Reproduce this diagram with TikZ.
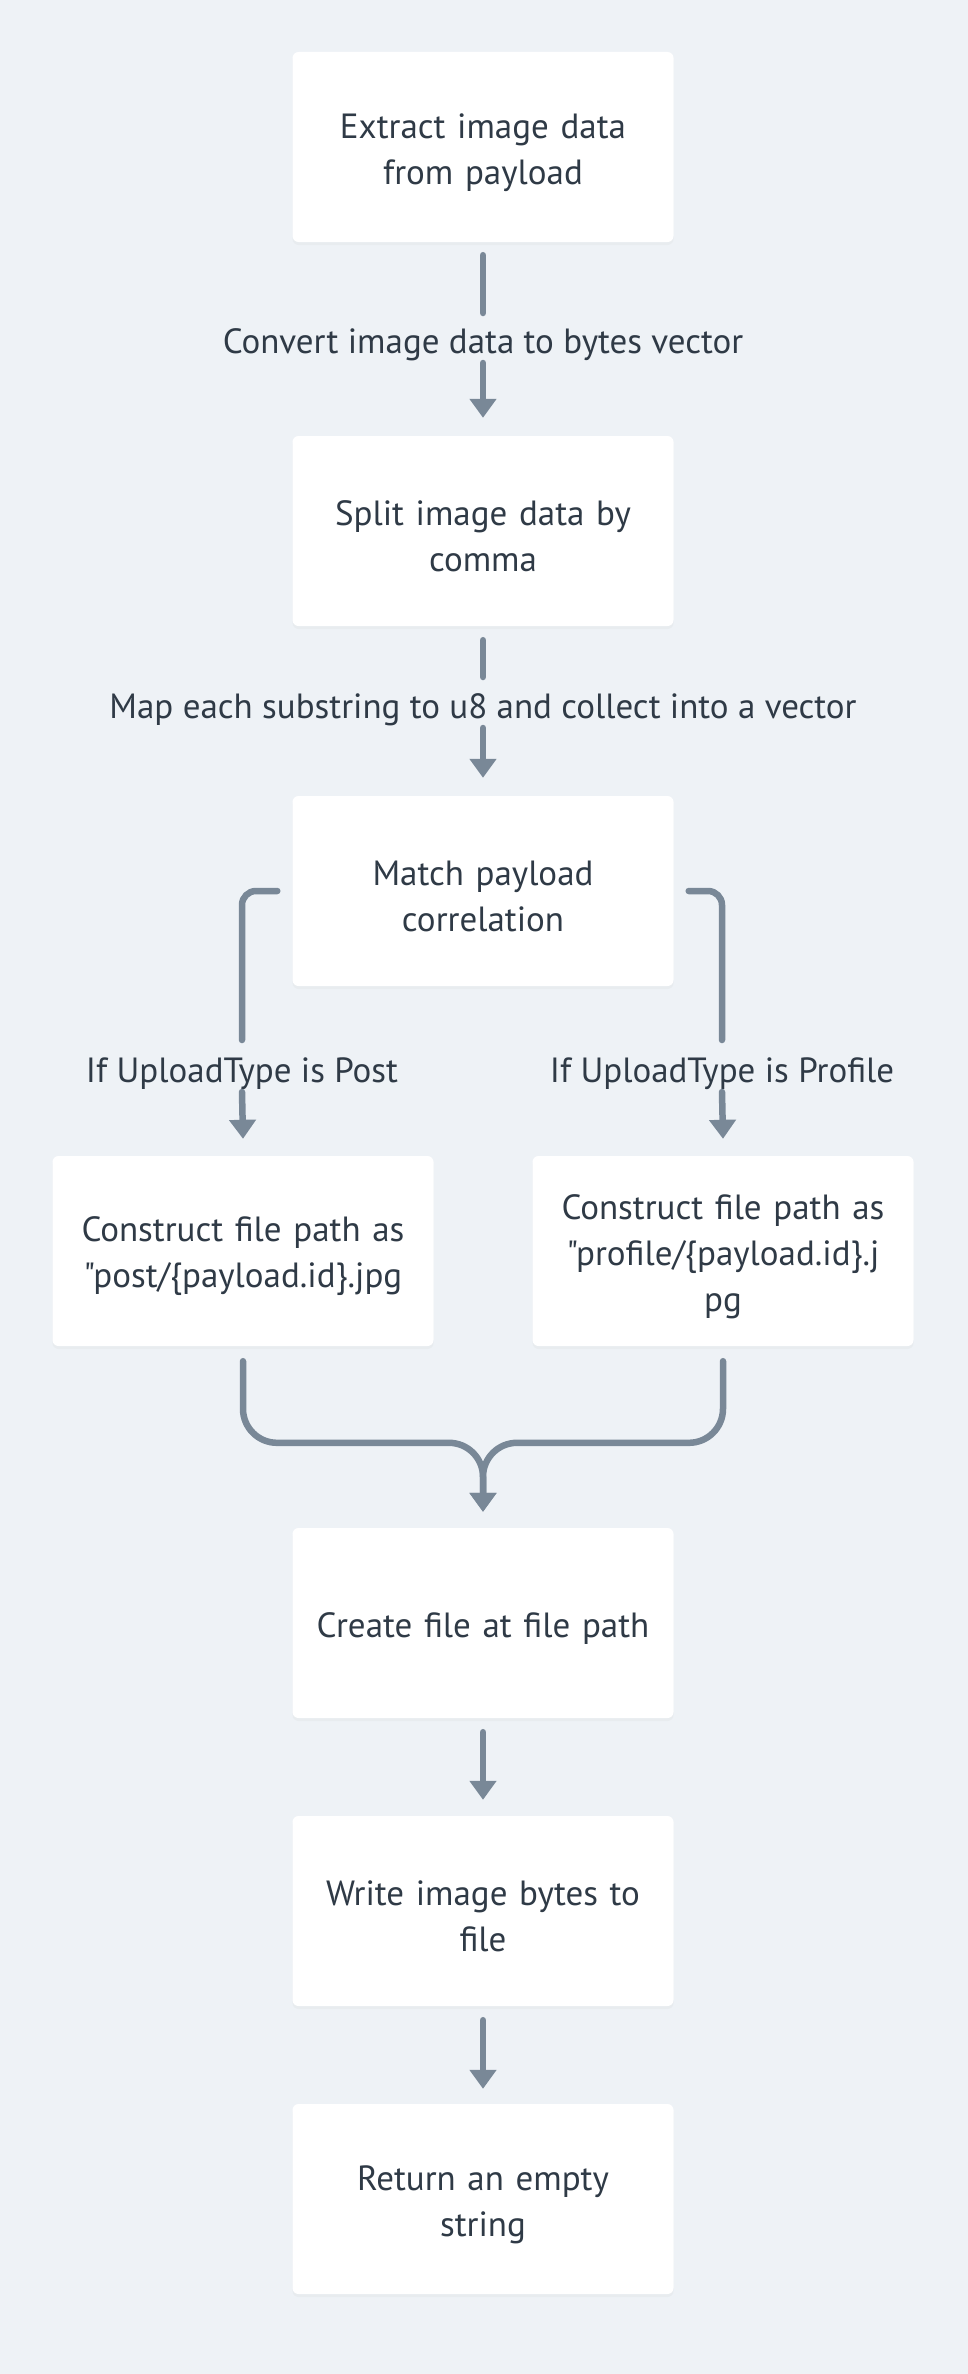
\documentclass[tikz,border=0pt]{standalone}
\usepackage{fontspec}
\setmainfont{PT Sans}[Ligatures=TeXOff]
\usetikzlibrary{arrows.meta,calc,shadows}
\definecolor{bgc}{HTML}{EEF2F6}
\definecolor{linec}{HTML}{798897}
\definecolor{textc}{HTML}{2F3A46}
\tikzset{
  x=1pt,y=1pt,
  stepbox/.style={draw=none, fill=white, rounded corners=6pt, minimum width=381pt, minimum height=190pt,
    text width=375pt, align=center, inner sep=0pt, text=textc,
    font=\fontsize{35}{46}\selectfont,
    execute at begin node={\rule{0pt}{36pt}},
    drop shadow={opacity=0.05, shadow xshift=0pt, shadow yshift=-3pt}},
  lbl/.style={inner sep=0pt, text=textc, font=\fontsize{35}{40}\selectfont},
  conn/.style={draw=linec, line width=6.5pt, line cap=round},
  arr/.style={conn, -{Triangle[width=26pt,length=19pt]}},
}
\begin{document}
\begin{tikzpicture}
\fill[bgc] (0,0) rectangle (968,-2374);
\useasboundingbox (0,0) rectangle (968,-2374);

\node[stepbox] (b1) at (483,-147) {Extract image data\\from payload};
\node[lbl] (l1) at (483,-345) {Convert image data to bytes vector};
\node[stepbox] (b2) at (483,-531) {Split image data by\\comma};
\node[lbl] (l2) at (483,-710) {Map each substring to u8 and collect into a vector};
\node[stepbox] (b3) at (483,-891) {Match payload\\correlation};
\node[lbl] (lp) at (242,-1074) {If UploadType is Post};
\node[lbl] (lq) at (722,-1074) {If UploadType is Profile};
\node[stepbox] (b4) at (243,-1251) {Construct file path as\\"post/\{payload.id\}.jpg};
\node[stepbox] (b5) at (723,-1251) {Construct file path as\\"profile/\{payload.id\}.j\\pg};
\node[stepbox] (b6) at (483,-1623) {Create file at file path};
\node[stepbox] (b7) at (483,-1911) {Write image bytes to\\file};
\node[stepbox] (b8) at (483,-2199) {Return an empty\\string};

% top chain
\draw[conn] ([yshift=-13pt]b1.south) -- ([yshift=32pt]l1.center);
\draw[arr] ([yshift=-18pt]l1.center) -- ([yshift=18pt]b2.north);
\draw[conn] ([yshift=-14pt]b2.south) -- ([yshift=33pt]l2.center);
\draw[arr] ([yshift=-18pt]l2.center) -- ([yshift=18pt]b3.north);

% branches
\draw[conn, rounded corners=14pt] ([xshift=-15pt]b3.west) -| ([yshift=34pt]lp.center);
\draw[conn, rounded corners=14pt] ([xshift=15pt]b3.east) -| ([yshift=34pt]lq.center);
\draw[arr] ([yshift=-18pt]lp.center) -- ([yshift=17pt]b4.north);
\draw[arr] ([yshift=-18pt]lq.center) -- ([yshift=17pt]b5.north);

% merge
\coordinate (mg) at ($(b6.north)+(0,85)$);
\draw[arr, rounded corners=34pt] ([yshift=-15pt]b4.south) |- (mg) -- ([yshift=16pt]b6.north);
\draw[arr, rounded corners=34pt] ([yshift=-15pt]b5.south) |- (mg) -- ([yshift=16pt]b6.north);

% bottom chain
\draw[arr] ([yshift=-14pt]b6.south) -- ([yshift=16pt]b7.north);
\draw[arr] ([yshift=-14pt]b7.south) -- ([yshift=15pt]b8.north);
\end{tikzpicture}
\end{document}
